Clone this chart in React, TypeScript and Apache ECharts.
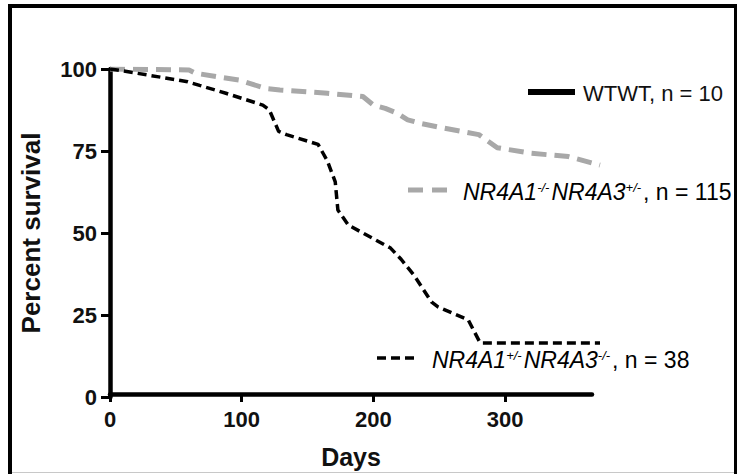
import React, { useEffect, useRef } from 'react';
import * as echarts from 'echarts';

// Survival curves (days, percent survival)
const seriesNames = ['WTWT, n = 10', 'NR4A1-/- NR4A3+/-, n = 115', 'NR4A1+/- NR4A3-/-, n = 38'];

const wtDays: number[] = [];
const wtVals: number[] = [];

const hetDays = [0, 60, 65, 98, 119, 129, 165, 192, 200, 209, 218, 226, 236, 253, 280, 294, 320, 348, 372];
const hetVals = [100, 99.7, 98.7, 96.6, 94, 93.6, 92.6, 91.6, 89, 88, 86.5, 84.5, 83.4, 82, 80, 76, 74.3, 73.3, 70.7];

const koDays = [0, 10, 37, 59, 68, 88, 116, 121, 128, 134, 158, 165, 171, 173, 181, 213, 221, 231, 244, 249, 272, 281, 372];
const koVals = [100, 99.4, 97.6, 96.1, 95, 92.6, 89, 87.5, 81, 80, 77, 72, 65.6, 57, 52.4, 45.4, 42, 37, 29, 27.5, 23.5, 16.5, 16.5];

const yTicks = [0, 25, 50, 75, 100];
const xTicks = [0, 100, 200, 300];

const zip = (xs: number[], ys: number[]) => xs.map((x, i) => [x, ys[i]]);

const FONT = 'Liberation Sans, Arial, sans-serif';

export default function App() {
  const ref = useRef<HTMLDivElement>(null);
  useEffect(() => {
    const chart = echarts.init(ref.current!, null, { renderer: 'svg' });
    const richBase = {
      i: { fontFamily: FONT, fontStyle: 'italic', fontSize: 23, color: '#111' },
      s: { fontFamily: FONT, fontStyle: 'italic', fontSize: 13, color: '#111', verticalAlign: 'top', padding: [0, 2, 10, 0] },
      n: { fontFamily: FONT, fontSize: 23, color: '#111' },
    };
    chart.setOption({
      animation: false,
      backgroundColor: '#ffffff',
      grid: [
        // plotting area for the curves (data run a little past the drawn axis)
        { left: 110, right: 137, top: 69, bottom: 77, containLabel: false },
        // grid carrying the visible x axis (ends at day ~366)
        { left: 110, right: 145, top: 69, bottom: 77, containLabel: false },
      ],
      xAxis: [
        {
          gridIndex: 0,
          type: 'value',
          min: 0,
          max: 372,
          show: false,
        },
        {
          gridIndex: 1,
          type: 'value',
          min: 0,
          max: 366,
          interval: 100,
          name: 'Days',
          nameLocation: 'middle',
          nameGap: 50,
          nameTextStyle: { fontFamily: FONT, fontWeight: 'bold', fontSize: 25, color: '#111' },
          axisLine: { show: true, lineStyle: { color: '#000', width: 4.5 } },
          axisTick: { show: true, length: 8, lineStyle: { color: '#000', width: 3 }, customValues: xTicks },
          axisLabel: {
            margin: 14,
            fontFamily: FONT,
            fontWeight: 'bold',
            fontSize: 22,
            color: '#111',
            customValues: xTicks,
          },
          splitLine: { show: false },
        },
      ],
      yAxis: [
        {
          gridIndex: 0,
          type: 'value',
          min: 0,
          max: 100,
          interval: 25,
          name: 'Percent survival',
          nameLocation: 'middle',
          nameGap: 66,
          nameTextStyle: { fontFamily: FONT, fontWeight: 'bold', fontSize: 26, color: '#111' },
          axisLine: { show: true, lineStyle: { color: '#000', width: 4.5 } },
          axisTick: { show: true, length: 9, lineStyle: { color: '#000', width: 3 } },
          axisLabel: {
            margin: 13,
            fontFamily: FONT,
            fontWeight: 'bold',
            fontSize: 22,
            color: '#111',
            customValues: yTicks,
          },
          splitLine: { show: false },
        },
        {
          gridIndex: 1,
          type: 'value',
          min: 0,
          max: 100,
          show: false,
        },
      ],
      series: [
        {
          name: seriesNames[0],
          type: 'line',
          xAxisIndex: 0,
          yAxisIndex: 0,
          data: zip(wtDays, wtVals),
          showSymbol: false,
          symbol: 'none',
          lineStyle: { color: '#000', width: 6 },
        },
        {
          name: seriesNames[1],
          type: 'line',
          xAxisIndex: 0,
          yAxisIndex: 0,
          data: zip(hetDays, hetVals),
          showSymbol: false,
          symbol: 'none',
          z: 2,
          lineStyle: { color: '#a8a8a8', width: 5, type: [15, 8] },
        },
        {
          name: seriesNames[2],
          type: 'line',
          xAxisIndex: 0,
          yAxisIndex: 0,
          data: zip(koDays, koVals),
          showSymbol: false,
          symbol: 'none',
          z: 3,
          lineStyle: { color: '#000', width: 3.5, type: [9, 5] },
        },
      ],
      graphic: [
        // frame
        { type: 'line', shape: { x1: 10, y1: 4, x2: 10, y2: 474 }, style: { stroke: '#000', lineWidth: 4 } },
        { type: 'line', shape: { x1: 8, y1: 6, x2: 737, y2: 6 }, style: { stroke: '#000', lineWidth: 4 } },
        { type: 'line', shape: { x1: 735.5, y1: 4, x2: 735.5, y2: 474 }, style: { stroke: '#000', lineWidth: 3 } },
        { type: 'line', shape: { x1: 12, y1: 472.5, x2: 734, y2: 472.5 }, style: { stroke: '#c8c8c8', lineWidth: 1 } },
        // legend samples
        { type: 'line', shape: { x1: 528, y1: 92, x2: 575, y2: 92 }, style: { stroke: '#000', lineWidth: 6 } },
        { type: 'line', shape: { x1: 408, y1: 190, x2: 448, y2: 190 }, style: { stroke: '#a8a8a8', lineWidth: 5, lineDash: [15, 9] } },
        { type: 'line', shape: { x1: 377, y1: 358, x2: 417, y2: 358 }, style: { stroke: '#000', lineWidth: 3.5, lineDash: [9, 5] } },
        // legend texts
        {
          type: 'text',
          x: 583,
          y: 93,
          style: { text: 'WTWT, n = 10', fontFamily: FONT, fontSize: 22, fill: '#111', verticalAlign: 'middle', align: 'left' },
        },
        {
          type: 'text',
          x: 463,
          y: 192,
          style: {
            text: '{i|NR4A1}{s|-/-}{i|NR4A3}{s|+/-}{n|, n = 115}',
            rich: richBase,
            verticalAlign: 'middle',
            align: 'left',
          },
        },
        {
          type: 'text',
          x: 432,
          y: 360,
          style: {
            text: '{i|NR4A1}{s|+/-}{i|NR4A3}{s|-/-}{n|, n = 38}',
            rich: richBase,
            verticalAlign: 'middle',
            align: 'left',
          },
        },
      ],
    });
    return () => chart.dispose();
  }, []);
  return (
    <div
      ref={ref}
      style={{ position: 'fixed', left: 0, top: 0, width: 737, height: 474, background: '#fff' }}
    />
  );
}
